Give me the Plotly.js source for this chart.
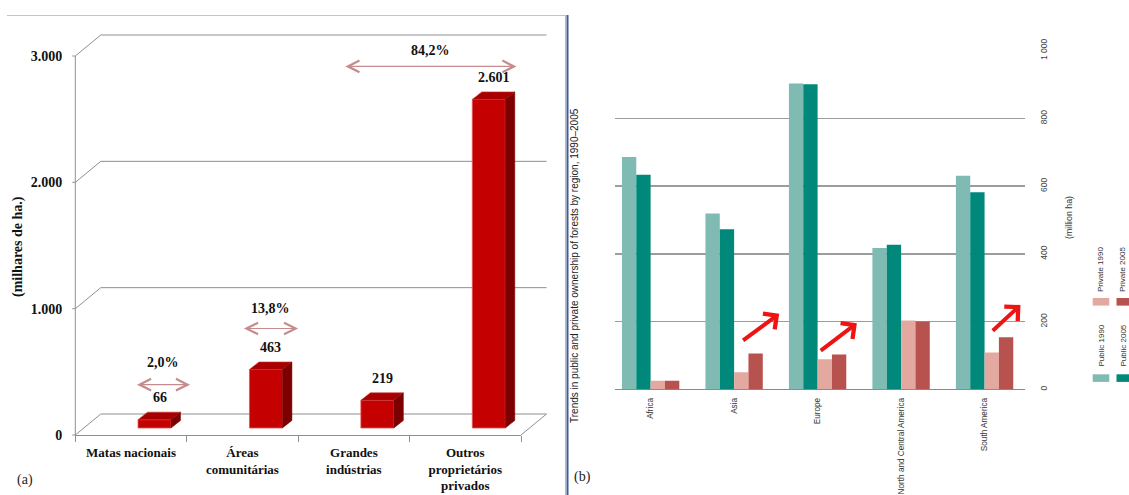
<!DOCTYPE html>
<html>
<head>
<meta charset="utf-8">
<script src="https://cdn.plot.ly/plotly-3.0.1.min.js"></script>
<style>
  html, body { margin: 0; padding: 0; background: #fff; }
  #chart { width: 1129px; height: 495px; }
</style>
</head>
<body>
<div id="chart"></div>
<script>
// (a) forest area by type of owner, thousand ha
const ownerCats = ['Matas nacionais', 'Áreas<br>comunitárias', 'Grandes<br>indústrias', 'Outros<br>proprietários<br>privados'];
const ownerArea = [66, 463, 219, 2601];
const shareGroups = [[0], [1], [2, 3]];
const ownerTicks = [0, 1000, 2000, 3000];

// (b) public and private forest ownership by region, million ha
const regions = ['Africa', 'Asia', 'Europe', 'North and Central America', 'South America'];
const public1990 = [686, 519, 903, 417, 631];
const public2005 = [634, 473, 901, 427, 582];
const private1990 = [25, 50, 89, 203, 109];
const private2005 = [25, 106, 103, 200, 154];
const regionTicks = [0, 200, 400, 600, 800, 1000];
const seriesNames = ['Public 1990', 'Public 2005', 'Private 1990', 'Private 2005'];

// ---------------------------------------------------------------------------
const W = 1129, H = 495;
const fx = x => x / W;            // pixel -> paper
const fy = y => 1 - y / H;
const pt = (x, y) => fx(x).toFixed(5) + ',' + fy(y).toFixed(5);
const groupSep = (v, sep) => String(v).replace(/\B(?=(\d{3})+(?!\d))/g, sep);

const serif = 'Liberation Serif, Times New Roman, serif';
const sans = 'Liberation Sans, Arial, sans-serif';
const wallGrey = '#8f8f8f';

// chart (a): front plane of the 3-D box, in pixels
const A = { left: 75.3, right: 521, base: 435, top: 56, cmin: -0.5, cmax: 3.5, vmax: 3000 };
const aX = c => A.left + (c - A.cmin) / (A.cmax - A.cmin) * (A.right - A.left);
const aY = v => A.base - v / A.vmax * (A.base - A.top);      // value on the front plane
const pxPerUnit = (A.base - A.top) / A.vmax;
const wallDepth = [25.5, -21];    // front plane -> back wall
const barDepth = [9.5, -7.5];     // thickness of each column
const barLift = 7;                // columns stand a third of the way into the floor
const barShift = barLift / pxPerUnit;
const barOffset = 0.063, barWidth = 0.296;
const colTop = v => aY(v + barShift);                         // value on the column plane

// chart (b) plot box, in pixels
const B = { left: 615.4, right: 1025.4, base: 389.3, top: 50.7 };

const traces = [];

traces.push({
  type: 'bar', x: ownerCats, y: ownerArea, xaxis: 'x', yaxis: 'y',
  offset: barOffset, width: barWidth,
  marker: { color: '#C40000', line: { color: '#E25555', width: 0.8 } },
  hoverinfo: 'skip', showlegend: false
});

const seriesVals = [public1990, public2005, private1990, private2005];
const seriesCols = ['#7FBBB2', '#00897B', '#E3A9A1', '#B8524E'];
seriesVals.forEach((vals, k) => {
  traces.push({
    type: 'bar', x: regions, y: vals, name: seriesNames[k], xaxis: 'x2', yaxis: 'y2',
    marker: { color: seriesCols[k] }, hoverinfo: 'skip', showlegend: false
  });
});

const shapes = [];
const line = (x0, y0, x1, y1, color, width, layer) => shapes.push({
  type: 'line', xref: 'paper', yref: 'paper', x0: fx(x0), y0: fy(y0), x1: fx(x1), y1: fy(y1),
  line: { color: color, width: width }, layer: layer || 'below'
});

// front value axis, back wall, side wall and floor of the 3-D box
line(A.left, aY(0), A.left, aY(A.vmax), wallGrey, 1);
ownerTicks.forEach(v => {
  const x0 = aX(A.cmin), y0 = aY(v);
  line(x0, y0, x0 + wallDepth[0], y0 + wallDepth[1], wallGrey, 1);
  line(x0 + wallDepth[0], y0 + wallDepth[1], aX(A.cmax) + wallDepth[0], y0 + wallDepth[1], wallGrey, 1);
  line(x0 - 3, y0, x0, y0, wallGrey, 1);
});
line(aX(A.cmax), aY(0), aX(A.cmax) + wallDepth[0], aY(0) + wallDepth[1], wallGrey, 1);

// top and side faces of the columns
ownerArea.forEach((v, i) => {
  const xl = aX(i + barOffset), xr = aX(i + barOffset + barWidth);
  const top = colTop(v), bot = colTop(0);
  const [dx, dy] = barDepth;
  shapes.push({
    type: 'path', xref: 'paper', yref: 'paper', layer: 'above',
    path: 'M' + pt(xl, top) + 'L' + pt(xl + dx, top + dy) + 'L' + pt(xr + dx, top + dy) + 'L' + pt(xr, top) + 'Z',
    fillcolor: '#A80000', line: { color: '#C83030', width: 0.6 }
  });
  shapes.push({
    type: 'path', xref: 'paper', yref: 'paper', layer: 'above',
    path: 'M' + pt(xr, top) + 'L' + pt(xr + dx, top + dy) + 'L' + pt(xr + dx, bot + dy) + 'L' + pt(xr, bot) + 'Z',
    fillcolor: '#7C0000', line: { color: '#7C0000', width: 0.5 }
  });
});

// page frame and panel divider
line(7, 15.5, 566, 15.5, '#c4c4c4', 1);
line(565.5, 15, 565.5, 495, '#b8b8b8', 1, 'above');
line(567.5, 15, 567.5, 495, '#3d5d93', 2, 'above');

// legend swatches for (b)
const swatches = [[1092.7, 374.3], [1116.5, 374.3], [1092.7, 298], [1116.5, 298]];
swatches.forEach((s, k) => shapes.push({
  type: 'rect', xref: 'paper', yref: 'paper', layer: 'above',
  x0: fx(s[0]), x1: fx(s[0] + 16.6), y0: fy(s[1]), y1: fy(s[1] + 7.6),
  fillcolor: seriesCols[k], line: { width: 0 }
}));

const annotations = [];
const boldSerif = size => ({ family: serif, size: size, color: '#111', weight: 'bold' });
const note = o => annotations.push(Object.assign({ xanchor: 'center', yanchor: 'middle', showarrow: false }, o));

// value labels on the columns
ownerArea.forEach((v, i) => note({
  xref: 'x', yref: 'y', x: i + barOffset + barWidth / 2, y: v,
  xshift: 5, yshift: 22, text: groupSep(v, '.'), font: boldSerif(14)
}));

// shares of the total, with double-headed span arrows
const total = ownerArea.reduce((a, b) => a + b, 0);
const spanFrom = [0.04, 0.0, -0.09], spanTo = [0.53, 0.5, 0.46];
const arrowLift = [35, 41, 33], textLift = [57, 61, 49];
shareGroups.forEach((g, k) => {
  const sum = g.reduce((a, i) => a + ownerArea[i], 0);
  const share = (sum / total * 100).toFixed(1).replace('.', ',') + '%';
  const topPx = Math.min(...g.map(i => colTop(ownerArea[i])));
  const xa = aX(g[0] + spanFrom[k]), xb = aX(g[g.length - 1] + spanTo[k]);
  annotations.push({
    xref: 'paper', yref: 'paper', x: fx(xb), y: fy(topPx - arrowLift[k]),
    axref: 'pixel', ayref: 'pixel', ax: -(xb - xa), ay: 0, text: '',
    showarrow: true, arrowside: 'end+start', arrowhead: 5, startarrowhead: 5,
    arrowsize: 1.9, startarrowsize: 1.9, arrowwidth: 1.2, arrowcolor: '#C48C8C',
    standoff: 0, startstandoff: 0
  });
  note({
    xref: 'paper', yref: 'paper', x: fx((xa + xb) / 2), y: fy(topPx - textLift[k]),
    text: share, font: boldSerif(14)
  });
});

// axis title of (a)
note({ xref: 'paper', yref: 'paper', x: fx(18), y: fy(247), textangle: -90,
  text: '(milhares de ha.)', font: boldSerif(14) });
// panel letters
note({ xref: 'paper', yref: 'paper', x: fx(24.5), y: fy(480), text: '(a)',
  font: { family: serif, size: 14, color: '#222' } });
note({ xref: 'paper', yref: 'paper', x: fx(582), y: fy(477), text: '(b)',
  font: { family: serif, size: 14, color: '#222' } });

// rotated title, axis title and legend of (b)
note({ xref: 'paper', yref: 'paper', x: fx(574), y: fy(266), textangle: -90,
  text: 'Trends in public and private ownership of forests by region, 1990–2005',
  font: { family: sans, size: 10, color: '#222' } });
note({ xref: 'paper', yref: 'paper', x: fx(1069), y: fy(218), textangle: -90,
  text: '(million ha)', font: { family: sans, size: 8.8, color: '#333' } });
const legendText = [[1100.5, 369], [1122.5, 369], [1100.5, 294], [1122.5, 294]];
legendText.forEach((p, k) => note({
  xref: 'paper', yref: 'paper', x: fx(p[0]), y: fy(p[1]), yanchor: 'bottom', textangle: -90,
  text: seriesNames[k], font: { family: sans, size: 8, color: '#333' }
}));

// red arrows marking the rise in private ownership
const riseArrows = [[1.09, 141, 1.54, 223], [2.02, 111, 2.47, 195], [4.08, 169, 4.43, 249]];
riseArrows.forEach(a => annotations.push({
  xref: 'x2', yref: 'y2', axref: 'x2', ayref: 'y2', x: a[2], y: a[3], ax: a[0], ay: a[1],
  text: '', showarrow: true, arrowhead: 4, arrowsize: 0.95, arrowwidth: 4, arrowcolor: '#EE1414',
  standoff: 0
}));

const layout = {
  width: W, height: H, margin: { l: 0, r: 0, t: 0, b: 0 },
  paper_bgcolor: '#ffffff', plot_bgcolor: 'rgba(0,0,0,0)',
  separators: ',.', showlegend: false,
  barmode: 'group', bargap: 0.313, bargroupgap: 0,
  xaxis: {
    domain: [fx(A.left), fx(A.right)], anchor: 'y', type: 'category', range: [A.cmin, A.cmax],
    showline: true, linecolor: wallGrey, linewidth: 1, showgrid: false, zeroline: false,
    ticks: 'outside', ticklen: 6, tickcolor: wallGrey, tickson: 'boundaries',
    tickfont: boldSerif(13), ticklabelstandoff: 5, fixedrange: true
  },
  yaxis: {
    // the columns stand behind the front plane: the value axis is lifted by barShift
    // and its labels are moved back down onto the front plane
    domain: [fy(A.base), fy(colTop(A.vmax))], anchor: 'x', range: [-barShift, A.vmax],
    tickvals: ownerTicks, tickformat: ',d', ticklabelshift: barLift,
    showline: false, showgrid: false, zeroline: false,
    ticks: '', tickfont: boldSerif(14), ticklabelstandoff: 12, fixedrange: true
  },
  xaxis2: {
    domain: [fx(B.left), fx(B.right)], anchor: 'y2', type: 'category', range: [-0.422, 4.489],
    showline: false, showgrid: false, zeroline: false, ticks: '', tickangle: -90,
    tickfont: { family: sans, size: 8.2, color: '#333' }, ticklabelstandoff: 6, fixedrange: true
  },
  yaxis2: {
    domain: [fy(B.base), fy(B.top)], anchor: 'x2', side: 'right', range: [0, 1000],
    tickvals: regionTicks, ticktext: regionTicks.map(v => groupSep(v, ' ')), tickangle: -90,
    showgrid: true, gridcolor: '#9c9c9c', gridwidth: 1.3,
    zeroline: true, zerolinecolor: '#8a8a8a', zerolinewidth: 1.5, showline: false, ticks: '',
    tickfont: { family: sans, size: 8.5, color: '#444' }, ticklabelstandoff: 12, fixedrange: true
  },
  shapes: shapes,
  annotations: annotations
};

Plotly.newPlot('chart', traces, layout, { staticPlot: true, displayModeBar: false });
</script>
</body>
</html>
